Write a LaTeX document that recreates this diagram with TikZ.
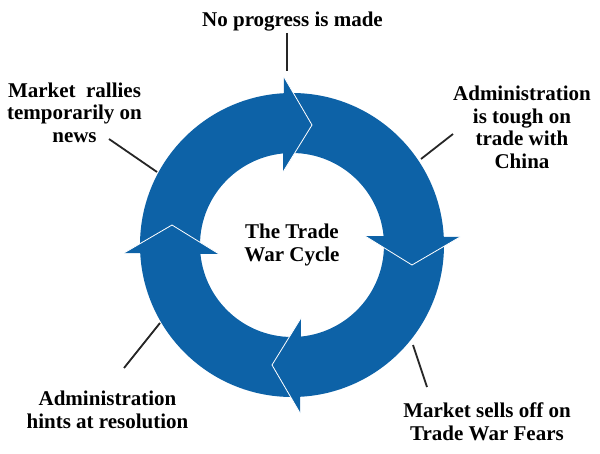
\documentclass[tikz,border=0pt]{standalone}
\usepackage{fontspec}
\setmainfont{Liberation Serif}
\usepackage{tikz}

\definecolor{cycleblue}{RGB}{13,98,167}

\begin{document}
\begin{tikzpicture}[x=1pt,y=1pt,
    lbl/.style={font=\bfseries\fontsize{21}{22.5}\selectfont, align=center, inner sep=0pt},
    lead/.style={line width=1.8pt, draw=black!85}]
    \useasboundingbox (0,0) rectangle (600,453);
    \coordinate (C) at (292, 208);

    % ring
    \fill[cycleblue, even odd rule] (C) circle (152pt) (C) circle (92pt);
    % arrow heads, one per quarter
    \foreach \k in {0,1,2,3}{
      \begin{scope}[shift={(C)}, rotate=-90*\k]
        \fill[cycleblue] (-8,168) -- (20,120) -- (-9,73) -- cycle;
        \draw[white, line width=0.8pt] (-8,168) -- (20,120) -- (-9,73); % notch edge
      \end{scope}
    }

    % labels
    \node[lbl] (title) at (C) {The Trade\\War Cycle};
    \node[lbl, anchor=base] (made) at (292.5, 426) {No progress is made};
    \node[lbl] (rally) at (74.5, 340.6) {Market\ \ rallies\\temporarily on\\news};
    \node[lbl] (tough) at (522, 325.6) {Administration\\is tough on\\trade with\\China};
    \node[lbl] (hints) at (107.5, 43.1) {Administration\\hints at resolution};
    \node[lbl] (sells) at (487, 31.1) {Market sells off on\\Trade War Fears};

    % leader lines
    \coordinate (M1) at (286.7, 420);
    \coordinate (M2) at (286.7, 382);
    \coordinate (R1) at (109, 314);
    \coordinate (R2) at (157, 281);
    \coordinate (T1) at (453, 319);
    \coordinate (T2) at (421, 294);
    \coordinate (H1) at (124, 85);
    \coordinate (H2) at (160, 130);
    \coordinate (S1) at (427, 66);
    \coordinate (S2) at (413, 108);

    \draw[lead] (M1) -- (M2); % top
    \draw[lead] (R1) -- (R2); % upper left
    \draw[lead] (T1) -- (T2); % upper right
    \draw[lead] (H1) -- (H2); % lower left
    \draw[lead] (S1) -- (S2); % lower right

\end{tikzpicture}
\end{document}
